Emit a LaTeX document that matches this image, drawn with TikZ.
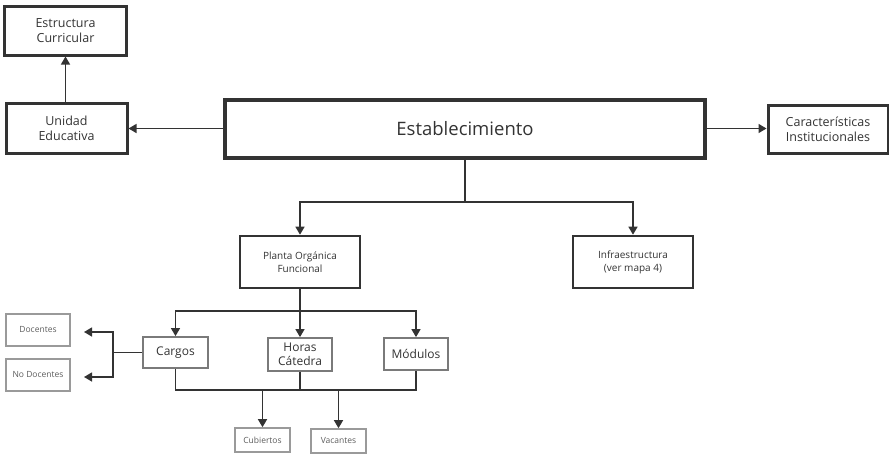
\documentclass[tikz,border=0pt]{standalone}
\usepackage{fontspec}
\setmainfont{Open Sans}
\usetikzlibrary{arrows.meta,positioning}
\definecolor{ink}{HTML}{333333}
\definecolor{midgray}{HTML}{7A7A7A}
\definecolor{lightgray}{HTML}{9A9A9A}
\tikzset{
  bigbox/.style={draw=ink,line width=3pt,text=ink,align=center,inner sep=0pt,font=\fontsize{12.5}{15}\selectfont},
  midbox/.style={draw=ink,line width=2.6pt,text=ink,align=center,inner sep=0pt,font=\fontsize{10}{13}\selectfont},
  subbox/.style={draw=midgray,line width=1.8pt,text=ink,align=center,inner sep=0pt,font=\fontsize{12}{14.5}\selectfont},
  smallbox/.style={draw=lightgray,line width=1.6pt,text=ink!80,align=center,inner sep=0pt,font=\fontsize{8.5}{10}\selectfont},
  conn/.style={draw=ink,line width=1.4pt},
  arr/.style={conn,-{Triangle[width=9pt,length=8pt]}}
}
\begin{document}
\begin{tikzpicture}[x=1pt,y=-1pt]
\useasboundingbox (0,0) rectangle (889,453);
\node[bigbox,minimum width=122pt,minimum height=49pt] (ec) at (65.5,30.5) {Estructura\\Curricular};
\node[bigbox,minimum width=121pt,minimum height=50pt] (ue) at (66.5,128) {Unidad\\Educativa};
\node[bigbox,line width=4pt,minimum width=480pt,minimum height=58pt,font=\fontsize{18.5}{22}\selectfont] (est) at (465,128.5) {Establecimiento};
\node[bigbox,minimum width=120pt,minimum height=48pt] (car) at (828,129) {Características\\Institucionales};
\node[midbox,minimum width=120pt,minimum height=52pt] (poa) at (300,262) {Planta Orgánica\\Funcional};
\node[midbox,minimum width=120pt,minimum height=52pt] (inf) at (633,262) {Infraestructura\\(ver mapa 4)};
\node[subbox,minimum width=65pt,minimum height=31pt] (cargos) at (175.5,352.5) {Cargos};
\node[subbox,minimum width=64pt,minimum height=33pt] (horas) at (300,354.5) {Horas\\Cátedra};
\node[subbox,minimum width=64pt,minimum height=32pt] (mod) at (416,354) {Módulos};
\node[smallbox,minimum width=64pt,minimum height=32pt] (doc) at (38,330) {Docentes};
\node[smallbox,minimum width=64pt,minimum height=32pt] (nodoc) at (38,375) {No Docentes};
\node[smallbox,minimum width=55pt,minimum height=24pt] (cub) at (262.5,440) {Cubiertos};
\node[smallbox,minimum width=55pt,minimum height=24pt] (vac) at (338.5,441) {Vacantes};
% connectors
\draw[arr] (ue.north -| ec.south) -- (ec.south);
\draw[arr] (est.west) -- (est.west -| ue.east);
\draw[arr] (est.east) -- (est.east -| car.west);
\coordinate (j1) at (465,202);
\draw[conn] (est.south) -- (j1);
\draw[arr] (j1) -| (poa.north);
\draw[arr] (j1) -| (inf.north);
\coordinate (j2) at (300,311);
\draw[conn] (poa.south) -- (j2);
\draw[arr] (j2) -| (cargos.north);
\draw[arr] (j2) -- (horas.north);
\draw[arr] (j2) -| (mod.north);
\coordinate (j3) at (113,352.5);
\coordinate (d1) at (84,332);
\coordinate (d2) at (84,377);
\draw[conn] (cargos.west) -- (j3);
\draw[arr] (j3) |- (d1);
\draw[arr] (j3) |- (d2);
\coordinate (j4) at (175.5,390);
\coordinate (j5) at (416,390);
\draw[conn] (cargos.south) -- (j4) -- (j5) -- (mod.south);
\draw[conn] (horas.south) -- (horas.south |- j4);
\draw[arr] (cub.north |- j4) -- (cub.north);
\draw[arr] (vac.north |- j4) -- (vac.north);
\end{tikzpicture}
\end{document}
